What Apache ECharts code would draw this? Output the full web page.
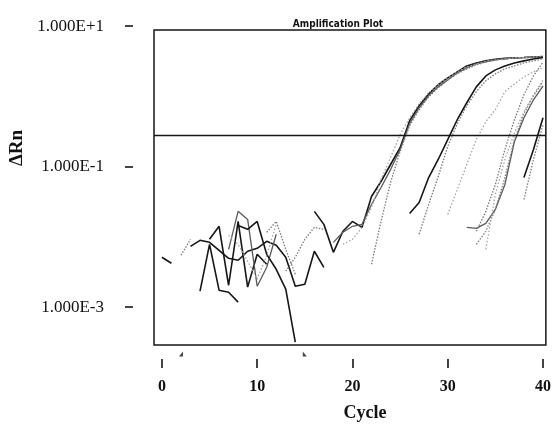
<!DOCTYPE html>
<html><head><meta charset="utf-8">
<script src="https://cdn.jsdelivr.net/npm/echarts@6/dist/echarts.min.js"></script>
<style>html,body{margin:0;padding:0;background:#fff}#c{width:554px;height:427px}</style>
</head><body><div id="c"></div>
<script>
// ---- axis data ----
const xTicks = [0, 10, 20, 30, 40];
const yTicks = [0.001, 0.1, 10];
const threshold = 0.2827;
const baselineStart = 2;
const baselineEnd = 15;
const markerLevel = 2.09e-4;

// ---- amplification curves: start cycle + ΔRn per cycle ----
const curveA_start = 16;
const curveA = [0.0227, 0.0148, 0.00591, 0.0118, 0.0163, 0.0134, 0.0370, 0.0606, 0.106, 0.1845, 0.447, 0.731, 1.08, 1.46, 1.83, 2.23, 2.71, 2.99, 3.20, 3.36, 3.47, 3.53, 3.58, 3.64, 3.70];
const curveA2_start = 18;
const curveA2 = [0.0082, 0.0114, 0.0139, 0.0148, 0.0285, 0.0497, 0.0897, 0.173, 0.405, 0.685, 1.015, 1.36, 1.71, 2.16, 2.54, 2.90, 3.09, 3.30, 3.41, 3.53, 3.58, 3.64, 3.64];
const curveA3_start = 22;
const curveA3 = [0.00399, 0.0163, 0.0586, 0.162, 0.380, 0.641, 0.982, 1.32, 1.71, 2.09, 2.46, 2.80, 3.09, 3.30, 3.41, 3.53, 3.53, 3.58, 3.64];
const curveA4_start = 19;
const curveA4 = [0.00768, 0.00905, 0.0134, 0.0258, 0.0647, 0.133, 0.2827, 0.493, 0.781, 1.12, 1.46, 1.83, 2.23, 2.63, 2.90, 3.20, 3.30, 3.41, 3.53, 3.58, 3.64, 3.64];
const curveB_start = 26;
const curveB = [0.0212, 0.0304, 0.0691, 0.125, 0.240, 0.462, 0.807, 1.36, 1.95, 2.38, 2.71, 2.99, 3.20, 3.41, 3.58];
const curveB2_start = 27;
const curveB2 = [0.0107, 0.0285, 0.0714, 0.191, 0.405, 0.731, 1.16, 1.66, 2.09, 2.46, 2.71, 2.99, 3.20, 3.41];
const curveE_start = 30;
const curveE = [0.0205, 0.0466, 0.106, 0.240, 0.433, 0.641, 1.16, 1.50, 1.89, 2.23, 2.54];
const curveC1_start = 32;
const curveC1 = [0.0134, 0.0130, 0.0153, 0.0242, 0.0549, 0.2247, 0.493, 0.890, 1.41];
const curveC2_start = 33;
const curveC2 = [0.00768, 0.0118, 0.0242, 0.0691, 0.240, 0.563, 1.015, 1.61];
const curveC3_start = 34;
const curveC3 = [0.00652, 0.0396, 0.125, 0.302, 0.601, 1.05, 1.71];
const curveC4_start = 33;
const curveC4 = [0.0118, 0.0227, 0.0549, 0.173, 0.462, 1.05, 1.95, 3.09];
const curveD_start = 38;
const curveD = [0.0691, 0.173, 0.493];
const curveD2_start = 38;
const curveD2 = [0.0336, 0.125, 0.392];

// ---- baseline noise traces ----
const baseL0_start = 0;  const baseL0 = [0.00502, 0.00412];
const baseT_start = 2;   const baseT = [0.00536, 0.00905];
const baseP_start = 3;   const baseP = [0.00719, 0.00876, 0.00820, 0.00631, 0.00485, 0.00455, 0.00611, 0.00674, 0.00848, 0.00743, 0.00502, 0.00194, 0.00207, 0.00611, 0.00361];
const baseQ_start = 4;   const baseQ = [0.00165, 0.00768, 0.00170, 0.00159, 0.00115];
const baseR_start = 5;   const baseR = [0.00905, 0.0139, 0.00200, 0.0163, 0.00188, 0.00553, 0.00399];
const baseS_start = 7;   const baseS = [0.00652, 0.0227, 0.0174, 0.00194, 0.00361, 0.0107];
const baseU_start = 8;   const baseU = [0.0143, 0.0126, 0.0163, 0.00553, 0.00338, 0.00176, 0.000309];
const baseV_start = 11;  const baseV = [0.0114, 0.0163, 0.00652, 0.00287];
const baseW_start = 7;   const baseW = [0.0103, 0.00768, 0.00440, 0.00244, 0.00536, 0.0148];
const baseY_start = 13;  const baseY = [0.00317, 0.00502, 0.00905, 0.0134, 0.0126];

const DARK = {color: '#161616', width: 1.6, type: 'solid'};
const MID = {color: '#5a5a5a', width: 1.3, type: 'solid'};
const DOT = {color: '#7a7a7a', width: 1.3, type: [1.5, 1.5]};
const DOTL = {color: '#a0a0a0', width: 1.2, type: [1.5, 2]};

const traces = [
  [curveA_start, curveA, DARK], [curveA2_start, curveA2, MID], [curveA3_start, curveA3, DOT], [curveA4_start, curveA4, DOTL],
  [curveB_start, curveB, DARK], [curveB2_start, curveB2, DOT], [curveE_start, curveE, DOTL],
  [curveC1_start, curveC1, MID], [curveC2_start, curveC2, DOT], [curveC3_start, curveC3, DOTL], [curveC4_start, curveC4, DOT],
  [curveD_start, curveD, DARK], [curveD2_start, curveD2, DOT],
  [baseL0_start, baseL0, DARK], [baseT_start, baseT, DOT], [baseP_start, baseP, DARK], [baseQ_start, baseQ, DARK],
  [baseR_start, baseR, DARK], [baseS_start, baseS, MID], [baseU_start, baseU, DARK], [baseV_start, baseV, DOT],
  [baseW_start, baseW, DOTL], [baseY_start, baseY, DOT]
];

const series = traces.map(function (t) {
  return {
    type: 'line', xAxisIndex: 0, yAxisIndex: 0, symbol: 'none', showSymbol: false, animation: false, silent: true,
    data: t[1].map(function (v, i) { return [t[0] + i, v]; }),
    lineStyle: t[2]
  };
});
series[0].markLine = {
  symbol: ['none', 'none'], silent: true, animation: false,
  label: {show: false},
  lineStyle: {color: '#161616', width: 1.3, type: 'solid'},
  data: [{yAxis: threshold}]
};
// baseline start / end markers under the axis
series.push({
  type: 'scatter', xAxisIndex: 0, yAxisIndex: 0, clip: false, silent: true, animation: false,
  itemStyle: {color: '#161616'},
  data: [
    {value: [baselineStart, markerLevel], symbol: 'path://M1,0 L1,1 L0,1 Z', symbolSize: [4, 5]},
    {value: [baselineEnd, markerLevel], symbol: 'path://M0,0 L0,1 L1,1 Z', symbolSize: [4, 5]}
  ]
});

const serif = '"Liberation Serif", "Times New Roman", serif';
const chart = echarts.init(document.getElementById('c'), null, {renderer: 'canvas'});
chart.setOption({
  backgroundColor: '#ffffff',
  animation: false,
  title: {
    text: 'Amplification Plot', left: 333, top: 14, textAlign: 'center',
    textStyle: {fontFamily: '"Liberation Sans Narrow", "DejaVu Sans Condensed", "Liberation Sans", sans-serif', fontWeight: 'bold', fontSize: 10, color: '#111'}
  },
  grid: [
    {left: 154, right: 5, top: 30, bottom: 81, show: true, borderColor: '#161616', borderWidth: 1.5, backgroundColor: 'transparent'},
    {left: 133, right: 5, top: 20, bottom: 81, show: false}
  ],
  xAxis: [{
    gridIndex: 0, type: 'value', min: -0.83, max: 40.3, offset: 14,
    axisLine: {show: false},
    axisTick: {show: true, customValues: xTicks, length: 9, inside: false, lineStyle: {color: '#161616', width: 1.6}},
    axisLabel: {customValues: xTicks, margin: 20, fontFamily: serif, fontWeight: 'bold', fontSize: 16, color: '#111'},
    splitLine: {show: false},
    name: 'Cycle', nameLocation: 'middle', nameGap: 45,
    nameTextStyle: {fontFamily: serif, fontWeight: 'bold', fontSize: 18, color: '#111', padding: [0, 0, 0, 30]}
  }, {
    gridIndex: 1, type: 'value', min: 0, max: 1, show: false
  }],
  yAxis: [{
    gridIndex: 0, type: 'log', logBase: 10, min: 2.804e-4, max: 8.83,
    axisLine: {show: false}, axisTick: {show: false}, axisLabel: {show: false}, splitLine: {show: false}
  }, {
    gridIndex: 1, type: 'log', logBase: 10, min: 2.804e-4, max: 12.25,
    axisLine: {show: false},
    axisTick: {show: true, inside: false, customValues: yTicks, length: 8, lineStyle: {color: '#161616', width: 1.6}},
    axisLabel: {
      customValues: yTicks, margin: 29, fontFamily: serif, fontSize: 17, color: '#111',
      formatter: function (v) { return Number(v).toExponential(3).toUpperCase(); }
    },
    splitLine: {show: false}, minorTick: {show: false}
  }],
  graphic: [{
    type: 'text', x: 17, y: 148, rotation: Math.PI / 2,
    style: {text: 'ΔRn', font: 'bold 19px "Liberation Serif"', fill: '#111', align: 'center', verticalAlign: 'middle', textAlign: 'center', textVerticalAlign: 'middle'}
  }],
  series: series
});
</script></body></html>
